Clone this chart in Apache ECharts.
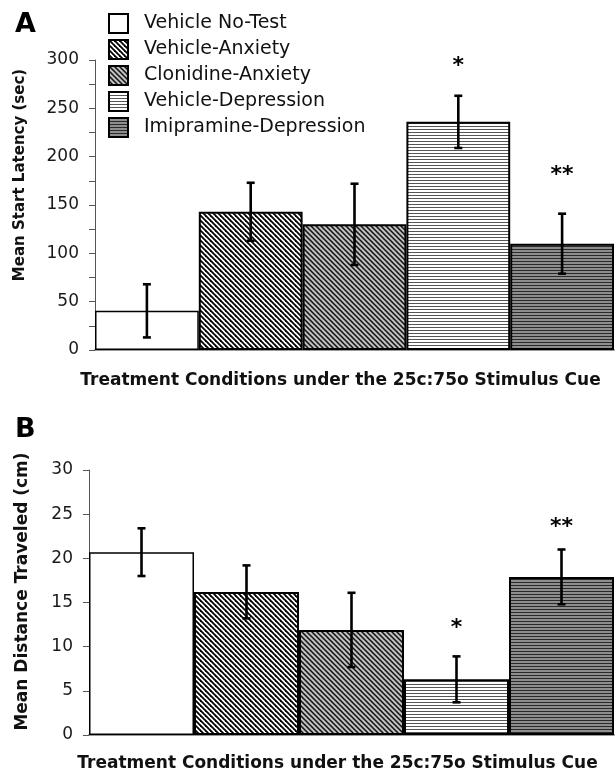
<!DOCTYPE html>
<html>
<head>
<meta charset="utf-8">
<script src="https://cdn.jsdelivr.net/npm/echarts@6/dist/echarts.min.js"></script>
<style>html,body{margin:0;padding:0;background:#fff}#c{width:616px;height:776px}</style>
</head>
<body>
<div id="c"></div>
<script>
// ---- data ----
const categories = ['Vehicle No-Test', 'Vehicle-Anxiety', 'Clonidine-Anxiety', 'Vehicle-Depression', 'Imipramine-Depression'];
const latencyMean = [40.5, 143, 130, 236, 110];
const latencyErr = [27.5, 30, 42, 27, 31];
const latencySig = ['', '', '', '*', '**'];
const latencySigAt = [0, 0, 0, 294, 181];
const distanceMean = [20.7, 16.2, 11.9, 6.3, 17.9];
const distanceErr = [2.7, 3.0, 4.2, 2.6, 3.1];
const distanceSig = ['', '', '', '*', '**'];
const distanceSigAt = [0, 0, 0, 12.1, 23.5];
const latencyTicks = [0, 50, 100, 150, 200, 250, 300];
const distanceTicks = [0, 5, 10, 15, 20, 25, 30];

// ---- patterns ----
function diag(size, bg, fg, lw) {
  const c = document.createElement('canvas');
  c.width = size; c.height = size;
  const g = c.getContext('2d');
  g.fillStyle = bg; g.fillRect(0, 0, size, size);
  g.strokeStyle = fg; g.lineWidth = lw; g.lineCap = 'square';
  for (const k of [-size, 0, size]) {
    g.beginPath(); g.moveTo(k - 2, -2); g.lineTo(k + size + 2, size + 2); g.stroke();
  }
  return { image: c, repeat: 'repeat' };
}
function horiz(period, bg, fg, lh) {
  const c = document.createElement('canvas');
  c.width = 4; c.height = period;
  const g = c.getContext('2d');
  g.fillStyle = bg; g.fillRect(0, 0, 4, period);
  g.fillStyle = fg; g.fillRect(0, 0, 4, lh);
  return { image: c, repeat: 'repeat' };
}
const fills = [
  '#ffffff',
  diag(5, '#ffffff', '#000000', 1.8),
  diag(5, '#c0c0c0', '#111111', 1.5),
  horiz(3, '#ffffff', '#555555', 1),
  horiz(3, '#8e8e8e', '#2a2a2a', 1)
];

const FONT = 'DejaVu Sans';
const chart = echarts.init(document.getElementById('c'), null, { renderer: 'canvas' });

function barSeries(g, values) {
  return categories.map((name, i) => ({
    type: 'bar', name, xAxisIndex: g, yAxisIndex: g, stack: 's' + g, barWidth: '100%',
    data: values.map((v, j) => (j === i ? v : '-')),
    itemStyle: { color: fills[i], borderColor: '#000', borderWidth: i === 0 ? 1.5 : 2 },
    emphasis: { disabled: true }, silent: true, animation: false
  }));
}
function errSeries(g, means, errs, sig, sigAt) {
  return {
    type: 'custom', xAxisIndex: g, yAxisIndex: g, silent: true, animation: false, z: 5,
    data: means.map((m, i) => [i, m, errs[i], sigAt[i]]),
    renderItem(params, api) {
      const i = api.value(0), m = api.value(1), e = api.value(2);
      const top = api.coord([i, m + e]);
      const bot = api.coord([i, m - e]);
      const st = { stroke: '#000', lineWidth: 2.6 };
      const children = [
        { type: 'line', shape: { x1: top[0], y1: top[1], x2: bot[0], y2: bot[1] }, style: st },
        { type: 'line', shape: { x1: top[0] - 4, y1: top[1], x2: top[0] + 4, y2: top[1] }, style: st },
        { type: 'line', shape: { x1: bot[0] - 4, y1: bot[1], x2: bot[0] + 4, y2: bot[1] }, style: st }
      ];
      const s = sig[params.dataIndex];
      if (s) {
        const p = api.coord([i, api.value(3)]);
        children.push({ type: 'text', x: p[0], y: p[1], style: { text: s, fill: '#000', font: 'bold 22px ' + FONT, textAlign: 'center', textVerticalAlign: 'middle' } });
      }
      return { type: 'group', children };
    }
  };
}
function yAxis(g, max, interval, ticks, name, nameSize, gap, shift) {
  return {
    type: 'value', gridIndex: g, min: 0, max, interval,
    name, nameLocation: 'middle', nameGap: gap,
    nameTextStyle: { fontFamily: FONT, fontWeight: 'bold', fontSize: nameSize, color: '#111', padding: [0, 0, 0, shift] },
    axisLine: { show: true, lineStyle: { color: '#555', width: 1 } },
    axisTick: { show: true, length: 6, lineStyle: { color: '#555' } },
    axisLabel: { margin: 16, fontFamily: FONT, fontSize: 17, color: '#1a1a1a',
      formatter: v => (ticks.indexOf(v) >= 0 ? String(v) : '') },
    splitLine: { show: false }
  };
}
function xAxis(g, gap) {
  return {
    type: 'category', gridIndex: g, data: categories,
    name: 'Treatment Conditions under the 25c:75o Stimulus Cue', nameLocation: 'middle', nameGap: gap,
    nameTextStyle: { fontFamily: FONT, fontWeight: 'bold', fontSize: 17, color: '#111', padding: [0, 28, 0, 0] },
    axisLine: { show: true, onZero: false, lineStyle: { color: '#999', width: 2 } },
    axisTick: { show: false }, axisLabel: { show: false }, splitLine: { show: false }
  };
}

chart.setOption({
  animation: false,
  backgroundColor: '#fff',
  title: [
    { text: 'A', left: 10, top: 6, textStyle: { fontFamily: FONT, fontWeight: 'bold', fontSize: 27, color: '#000' } },
    { text: 'B', left: 10, top: 411, textStyle: { fontFamily: FONT, fontWeight: 'bold', fontSize: 27, color: '#000' } }
  ],
  legend: {
    data: categories, orient: 'vertical', left: 108, top: 13, padding: 0, icon: 'rect',
    itemWidth: 19, itemHeight: 19, itemGap: 5,
    textStyle: { fontFamily: FONT, fontSize: 19, lineHeight: 19, color: '#111', padding: [0, 0, 0, 11] },
    selectedMode: false
  },
  grid: [
    { left: 95, top: 60, width: 519, height: 290 },
    { left: 89, top: 470, width: 525, height: 265 }
  ],
  xAxis: [xAxis(0, 22), xAxis(1, 20)],
  yAxis: [
    yAxis(0, 300, 25, latencyTicks, 'Mean Start Latency (sec)', 15, 67, 60),
    yAxis(1, 30, 5, distanceTicks, 'Mean Distance Traveled (cm)', 17, 58, 22)
  ],
  series: [
    ...barSeries(0, latencyMean),
    ...barSeries(1, distanceMean),
    errSeries(0, latencyMean, latencyErr, latencySig, latencySigAt),
    errSeries(1, distanceMean, distanceErr, distanceSig, distanceSigAt)
  ]
});
</script>
</body>
</html>
